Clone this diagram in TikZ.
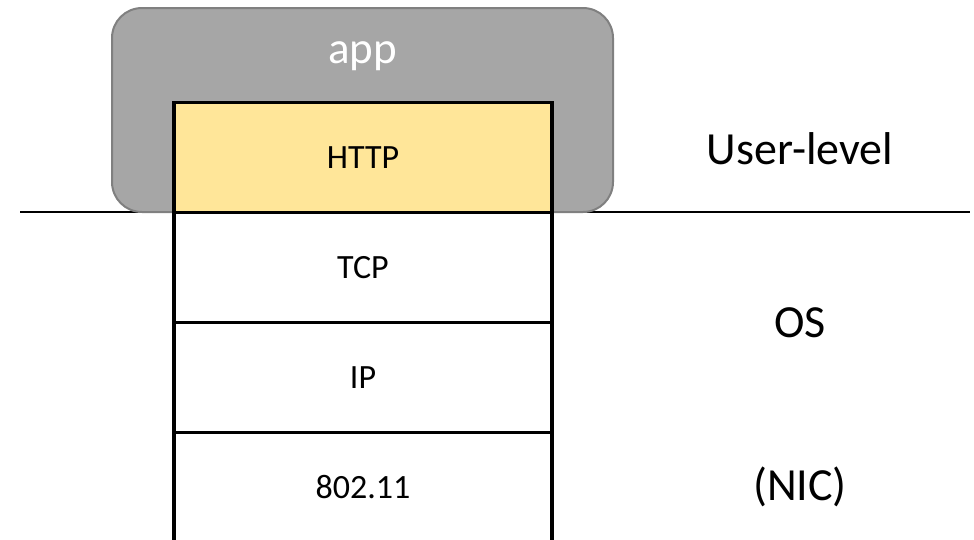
\documentclass[tikz,border=0pt]{standalone}
\usepackage{fontspec}
\setmainfont{Carlito}
\usetikzlibrary{positioning}

\begin{document}
\begin{tikzpicture}[x=1pt, y=-1pt,
    layer/.style={draw, line width=3.5pt, minimum width=378pt, minimum height=110pt,
      inner sep=0pt, outer sep=0pt, font=\fontsize{34}{40}\selectfont},
    side/.style={anchor=base, font=\fontsize{46}{55}\selectfont}]
    \definecolor{appgray}{HTML}{A6A6A6}
    \definecolor{appedge}{HTML}{808080}
    \definecolor{httpyellow}{HTML}{FFE699}

    \useasboundingbox (0,0) rectangle (974,539);

    % user/kernel boundary
    \coordinate (lineleft) at (20,212);
    \coordinate (lineright) at (970,212);
    \draw[line width=1.3pt] (lineleft) -- (lineright);

    % the app, wrapped round the top of the stack
    \node[draw=appedge, fill=appgray, line width=2pt, rounded corners=30pt,
      minimum width=501pt, minimum height=204pt] (app) at (362.5,110) {};
    \node[anchor=base, text=white, font=\fontsize{45}{54}\selectfont] (apptext) at (362.5,63) {app};

    % protocol stack
    \node[layer, fill=httpyellow] (http) at (363,157.5) {HTTP};
    \node[layer, fill=white, below=0pt of http] (tcp) {TCP};
    \node[layer, fill=white, below=0pt of tcp] (ip) {IP};
    \node[layer, fill=white, below=0pt of ip] (wifi) {802.11};

    % where each layer lives
    \node[side] (user) at (800,164) {User-level};
    \node[side] (os) at (800,337) {OS};
    \node[side] (nic) at (800,500) {(NIC)};
  \end{tikzpicture}
\end{document}
